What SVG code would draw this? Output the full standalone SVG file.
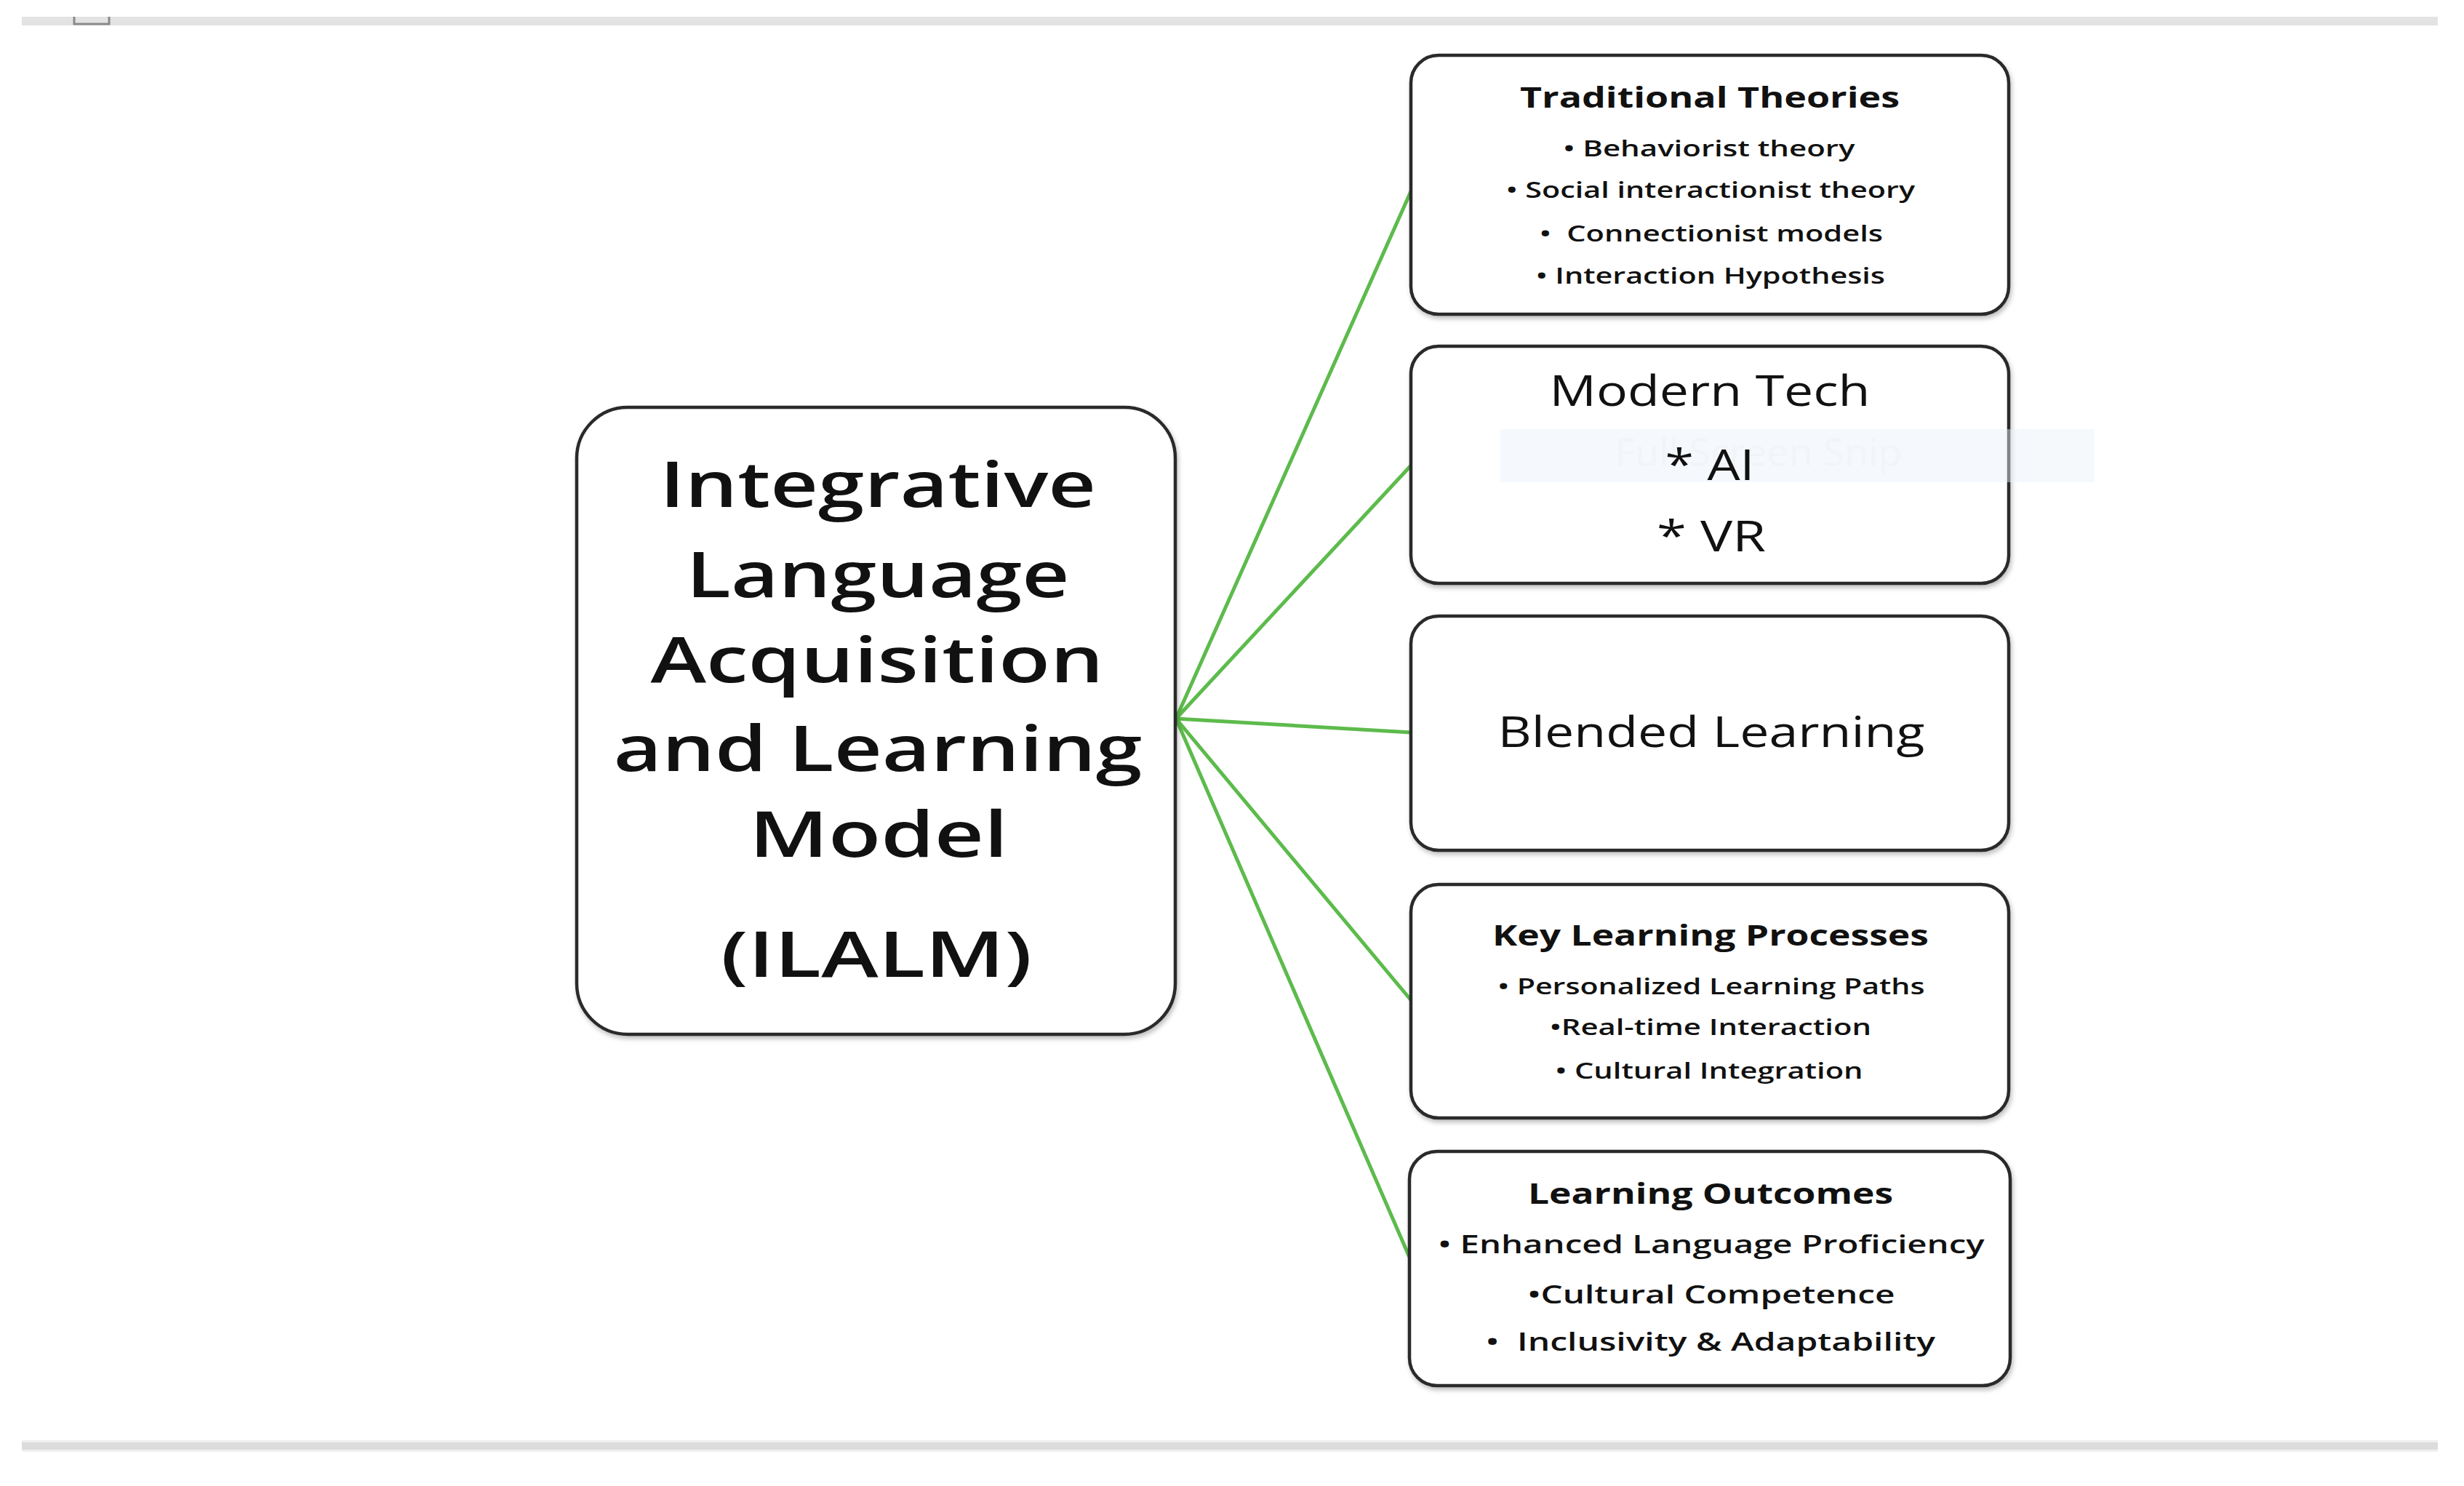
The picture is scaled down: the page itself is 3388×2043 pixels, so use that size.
<svg xmlns="http://www.w3.org/2000/svg" width="3388" height="2043" viewBox="0 0 3388 2043">
<defs>
<filter id="sh" x="-5%" y="-5%" width="110%" height="115%">
<feDropShadow dx="2" dy="4" stdDeviation="3" flood-color="#000" flood-opacity="0.25"/>
</filter>
</defs>
<style>
.box{fill:#fff;stroke:#2b2b2b;stroke-width:4.5;filter:url(#sh)}
.t{font-family:"Open Sans","Liberation Sans",sans-serif;fill:#111;text-anchor:middle;white-space:pre}
.big{font-size:86px;font-weight:600}
.h{font-size:39px;font-weight:700}
.it{font-size:30px;font-weight:600}
.it5{font-size:35px;font-weight:600}
.mt{font-size:58px;font-weight:400}
.bl{font-size:59px;font-weight:400}
.con{stroke:#5dbb4c;stroke-width:5;fill:none;stroke-linecap:round}
</style>
<rect width="3388" height="2043" fill="#fff"/>
<g id="frame">
<rect x="30" y="23" width="3322" height="12" fill="#e3e3e3"/>
<path d="M102,23 V33 H150 V23" fill="none" stroke="#8a8a8a" stroke-width="3"/>
<rect x="30" y="1983" width="3322" height="10" fill="#dcdcdc"/>
<rect x="30" y="1980" width="3322" height="3" fill="#efefef"/>
<rect x="30" y="1993" width="3322" height="3" fill="#efefef"/>
</g>
<g id="connectors">
<line class="con" x1="1617" y1="988" x2="1940" y2="263"/>
<line class="con" x1="1617" y1="988" x2="1940" y2="640"/>
<line class="con" x1="1617" y1="988" x2="1940" y2="1007"/>
<line class="con" x1="1617" y1="988" x2="1940" y2="1375"/>
<line class="con" x1="1617" y1="988" x2="1940" y2="1733"/>
</g>
<g id="node-ilalm">
<rect class="box" x="793" y="560" width="823" height="862" rx="70"/>
<text class="t big" x="1207" y="697" textLength="600" lengthAdjust="spacingAndGlyphs">Integrative</text>
<text class="t big" x="1207" y="821" textLength="527" lengthAdjust="spacingAndGlyphs">Language</text>
<text class="t big" x="1206" y="938" textLength="623" lengthAdjust="spacingAndGlyphs">Acquisition</text>
<text class="t big" x="1207" y="1060" textLength="727" lengthAdjust="spacingAndGlyphs">and Learning</text>
<text class="t big" x="1208" y="1178" textLength="356" lengthAdjust="spacingAndGlyphs">Model</text>
<text class="t big" x="1205" y="1343" textLength="428" lengthAdjust="spacingAndGlyphs">(ILALM)</text>
</g>
<g id="node-traditional">
<rect class="box" x="1940" y="76" width="822" height="356" rx="38"/>
<text class="t h" x="2351" y="148" textLength="522" lengthAdjust="spacingAndGlyphs">Traditional Theories</text>
<text class="t it" x="2350" y="215" textLength="401" lengthAdjust="spacingAndGlyphs">• Behaviorist theory</text>
<text class="t it" x="2352" y="272" textLength="562" lengthAdjust="spacingAndGlyphs">• Social interactionist theory</text>
<text class="t it" x="2353" y="332" textLength="472" lengthAdjust="spacingAndGlyphs">•  Connectionist models</text>
<text class="t it" x="2352" y="390" textLength="480" lengthAdjust="spacingAndGlyphs">• Interaction Hypothesis</text>
</g>
<g id="node-modern-tech">
<rect class="box" x="1940" y="476" width="822" height="326" rx="38"/>
<g id="snip-overlay" opacity="0.45">
<rect x="2063" y="590" width="817" height="73" fill="#eaf1f9"/>
<text x="2418" y="640" font-family="Open Sans, Liberation Sans, sans-serif" font-size="52" text-anchor="middle" fill="#e4e9ef" textLength="395" lengthAdjust="spacingAndGlyphs">Full Screen Snip</text>
</g>
<text class="t mt" x="2351" y="558" textLength="441" lengthAdjust="spacingAndGlyphs">Modern Tech</text>
<text class="t mt" x="2351" y="660" textLength="123" lengthAdjust="spacingAndGlyphs">* AI</text>
<text class="t mt" x="2353" y="758" textLength="150" lengthAdjust="spacingAndGlyphs">* VR</text>
</g>
<g id="node-blended">
<rect class="box" x="1940" y="847" width="822" height="322" rx="38"/>
<text class="t bl" x="2353" y="1027" textLength="587" lengthAdjust="spacingAndGlyphs">Blended Learning</text>
</g>
<g id="node-key-processes">
<rect class="box" x="1940" y="1216" width="822" height="321" rx="38"/>
<text class="t h" x="2352" y="1300" textLength="600" lengthAdjust="spacingAndGlyphs">Key Learning Processes</text>
<text class="t it" x="2353" y="1367" textLength="587" lengthAdjust="spacingAndGlyphs">• Personalized Learning Paths</text>
<text class="t it" x="2352" y="1423" textLength="442" lengthAdjust="spacingAndGlyphs">•Real-time Interaction</text>
<text class="t it" x="2350" y="1483" textLength="423" lengthAdjust="spacingAndGlyphs">• Cultural Integration</text>
</g>
<g id="node-outcomes">
<rect class="box" x="1938" y="1583" width="826" height="322" rx="38"/>
<text class="t h" x="2352" y="1655" textLength="502" lengthAdjust="spacingAndGlyphs">Learning Outcomes</text>
<text class="t it5" x="2353" y="1723" textLength="751" lengthAdjust="spacingAndGlyphs">• Enhanced Language Proficiency</text>
<text class="t it5" x="2353" y="1792" textLength="505" lengthAdjust="spacingAndGlyphs">•Cultural Competence</text>
<text class="t it5" x="2352" y="1857" textLength="618" lengthAdjust="spacingAndGlyphs">•  Inclusivity &amp; Adaptability</text>
</g>
</svg>
